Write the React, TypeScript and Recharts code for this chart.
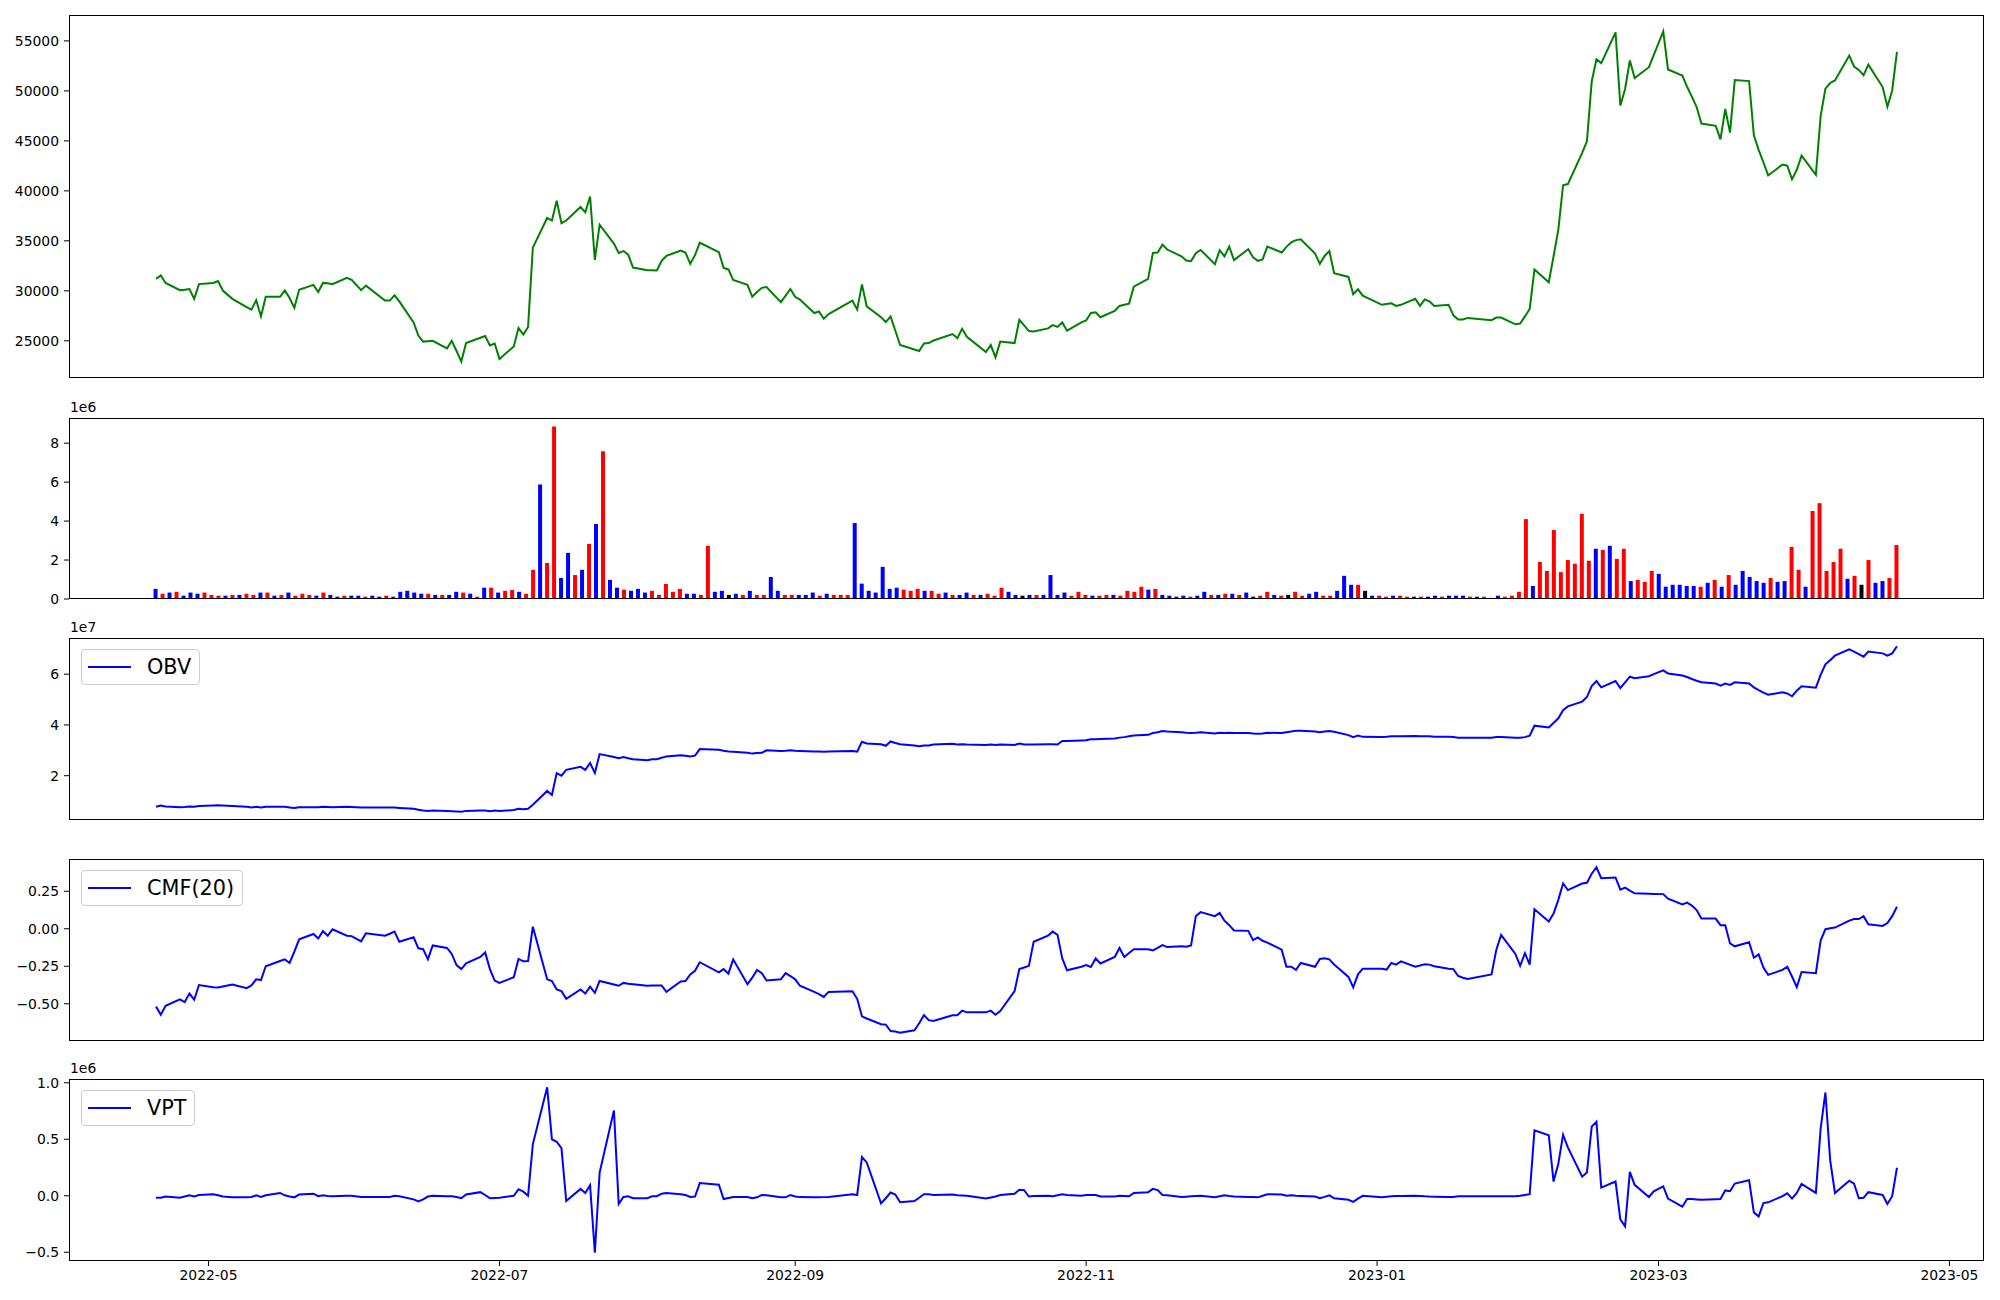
import React from "react";
import { ComposedChart, Line, Bar, Cell, XAxis, YAxis } from "recharts";

// trading days (KRX calendar) shown on the date axis
const tradingDays: [string, number[]][] = [
  ["2022-04", [20, 21, 22, 25, 26, 27, 28, 29]],
  ["2022-05", [2, 3, 4, 6, 9, 10, 11, 12, 13, 16, 17, 18, 19, 20, 23, 24, 25, 26, 27, 30, 31]],
  ["2022-06", [2, 3, 7, 8, 9, 10, 13, 14, 15, 16, 17, 20, 21, 22, 23, 24, 27, 28, 29, 30]],
  ["2022-07", [1, 4, 5, 6, 7, 8, 11, 12, 13, 14, 15, 18, 19, 20, 21, 22, 25, 26, 27, 28, 29]],
  ["2022-08", [1, 2, 3, 4, 5, 8, 9, 10, 11, 12, 16, 17, 18, 19, 22, 23, 24, 25, 26, 29, 30, 31]],
  ["2022-09", [1, 2, 5, 6, 7, 8, 13, 14, 15, 16, 19, 20, 21, 22, 23, 26, 27, 28, 29, 30]],
  ["2022-10", [4, 5, 6, 7, 11, 12, 13, 14, 17, 18, 19, 20, 21, 24, 25, 26, 27, 28, 31]],
  ["2022-11", [1, 2, 3, 4, 7, 8, 9, 10, 11, 14, 15, 16, 17, 18, 21, 22, 23, 24, 25, 28, 29, 30]],
  ["2022-12", [1, 2, 5, 6, 7, 8, 9, 12, 13, 14, 15, 16, 19, 20, 21, 22, 23, 26, 27, 28, 29]],
  ["2023-01", [2, 3, 4, 5, 6, 9, 10, 11, 12, 13, 16, 17, 18, 19, 20, 25, 26, 27, 30, 31]],
  ["2023-02", [1, 2, 3, 6, 7, 8, 9, 10, 13, 14, 15, 16, 17, 20, 21, 22, 23, 24, 27, 28]],
  ["2023-03", [2, 3, 6, 7, 8, 9, 10, 13, 14, 15, 16, 17, 20, 21, 22, 23, 24, 27, 28, 29, 30, 31]],
  ["2023-04", [3, 4, 5, 6, 7, 10, 11, 12, 13, 14, 17, 18, 19, 20]],
];

const xTickLabels = ["2022-05", "2022-07", "2022-09", "2022-11", "2023-01", "2023-03", "2023-05"];

const price = [
  [31200, 31540, 30790, 30070, 30110, 30180, 29200, 30670],
  [30790, 30970, 30030, 29200, 28380, 28120, 29060, 27440, 29400, 29400, 30030, 29280, 28300, 30110, 30600, 29880, 30790, 30750, 30670, 31310, 31090],
  [30070, 30520, 29020, 29020, 29550, 28940, 26840, 25520, 24920, 24960, 25000, 24240, 25000, 23980, 22930, 24770, 25300, 25480, 24540, 24730],
  [23190, 24430, 26270, 25630, 26390, 34320, 37290, 37030, 39020, 36760, 37030, 38380, 37850, 39430, 33080, 36610, 34730, 33790, 33980, 33610, 32330],
  [32060, 32060, 32030, 33000, 33490, 34020, 33830, 32700, 33570, 34810, 33870, 32290, 32140, 31090, 30600, 29400, 29880, 30300, 30370, 28870, 29510, 30180],
  [29400, 29130, 27780, 27930, 27210, 27670, 29020, 28120, 30640, 28450, 27360, 26870, 27430, 26010, 24580, 24130, 23980, 24730, 24770, 25030],
  [25670, 25260, 26200, 25410, 23870, 24580, 23340, 24920, 24770, 27100, 26540, 25970, 25940, 26240, 26570, 26390, 26840, 26010, 26840],
  [27030, 27780, 27850, 27360, 28000, 28490, 28600, 28720, 30410, 31200, 33790, 33830, 34620, 34130, 33450, 33040, 32970, 33760, 34090, 32670, 34060, 33450],
  [34430, 33080, 34170, 33340, 33000, 33150, 34430, 33830, 34400, 34850, 35070, 35150, 33720, 32700, 33490, 33980, 31760, 31390, 29660, 30150, 29510],
  [28600, 28680, 28750, 28490, 28600, 29210, 28490, 29130, 28940, 28490, 28600, 27550, 27140, 27140, 27290, 27060, 27330, 27330, 26650, 26730],
  [27440, 28190, 32140, 30860, 33450, 36090, 40560, 40680, 43800, 44960, 50940, 53160, 52780, 55860, 48530, 50190, 53040, 51280, 52370, 53570],
  [55940, 52140, 51540, 50410, 49430, 48380, 46730, 46500, 45150, 48190, 45820, 51090, 50980, 45560, 44100, 42860, 41540, 42630, 42520, 41160, 42100, 43530],
  [41610, 47480, 50230, 50790, 51050, 53530, 52440, 52100, 51580, 52630, 50380, 48420, 50040, 53910],
].flat();

// volume in units of 1e6
const volumeE6 = [
  [0.52, 0.27, 0.33, 0.37, 0.17, 0.33, 0.27, 0.33],
  [0.21, 0.17, 0.17, 0.21, 0.21, 0.27, 0.21, 0.33, 0.33, 0.17, 0.21, 0.33, 0.17, 0.27, 0.21, 0.17, 0.33, 0.21, 0.12, 0.17, 0.17],
  [0.17, 0.12, 0.17, 0.12, 0.17, 0.12, 0.37, 0.42, 0.33, 0.27, 0.27, 0.21, 0.21, 0.21, 0.37, 0.33, 0.27, 0.12, 0.58, 0.58],
  [0.33, 0.42, 0.46, 0.37, 0.27, 1.5, 5.88, 1.85, 8.85, 1.08, 2.37, 1.23, 1.5, 2.83, 3.85, 7.58, 0.98, 0.58, 0.48, 0.42, 0.52],
  [0.33, 0.42, 0.21, 0.77, 0.37, 0.52, 0.27, 0.27, 0.21, 2.73, 0.37, 0.42, 0.21, 0.27, 0.21, 0.42, 0.21, 0.21, 1.13, 0.42, 0.21, 0.21],
  [0.21, 0.21, 0.33, 0.17, 0.27, 0.21, 0.21, 0.21, 3.9, 0.79, 0.42, 0.33, 1.65, 0.52, 0.58, 0.48, 0.42, 0.52, 0.42, 0.42],
  [0.27, 0.33, 0.21, 0.21, 0.33, 0.21, 0.21, 0.27, 0.17, 0.58, 0.37, 0.21, 0.17, 0.21, 0.21, 0.21, 1.23, 0.21, 0.33],
  [0.17, 0.37, 0.21, 0.17, 0.17, 0.21, 0.21, 0.17, 0.42, 0.37, 0.63, 0.48, 0.52, 0.21, 0.17, 0.12, 0.17, 0.12, 0.17, 0.37, 0.21, 0.21],
  [0.27, 0.27, 0.21, 0.33, 0.12, 0.17, 0.37, 0.21, 0.17, 0.21, 0.37, 0.17, 0.27, 0.37, 0.17, 0.17, 0.42, 1.19, 0.73, 0.73, 0.42],
  [0.17, 0.17, 0.12, 0.17, 0.17, 0.12, 0.12, 0.12, 0.12, 0.17, 0.12, 0.17, 0.17, 0.17, 0.12, 0.12, 0.12, 0.06, 0.17, 0.12],
  [0.17, 0.37, 4.1, 0.67, 1.9, 1.44, 3.54, 1.38, 2.0, 1.81, 4.37, 1.96, 2.58, 2.52, 2.73, 2.06, 2.58, 0.92, 0.98, 0.88],
  [1.44, 1.29, 0.63, 0.73, 0.73, 0.67, 0.67, 0.63, 0.83, 0.98, 0.63, 1.23, 0.73, 1.44, 1.13, 0.92, 0.83, 1.08, 0.88, 0.92, 2.67, 1.5],
  [0.63, 4.52, 4.92, 1.44, 1.9, 2.58, 1.04, 1.19, 0.73, 2.0, 0.83, 0.92, 1.08, 2.77],
].flat();

// r = up, b = down, k = unchanged
const volumeDir = [
  "brbrbbbr",
  "rrbrbrrbrbrbrrrbrbbrb",
  "brbbrbbbbbrbrbbrbrbr",
  "brrbrrbrrbbrbrbrbbrbb",
  "brrrrrbbrrbbkbrbrrbbrr",
  "bbbrbrrrbbbbbbbrrrbr",
  "rbrbbrbrrrbbkbrbbbb",
  "rrrbrrbrrrrbrbbbbrbbrb",
  "rbrbkrrbrkrrbbrrbbbrk",
  "brrbrrbrbbrbbbrbrbbr",
  "rrrbrrrrrrrrbrbrrbrr",
  "rbbbbbbrbrbrbbbbbrbbrr",
  "brrrrrbrkrbbrr",
].join("");

// OBV in units of 1e7
const obvE7 = [
  [0.774, 0.82, 0.79, 0.76, 0.77, 0.79, 0.774, 0.806],
  [0.83, 0.84, 0.83, 0.81, 0.78, 0.745, 0.774, 0.745, 0.774, 0.774, 0.774, 0.75, 0.726, 0.758, 0.758, 0.758, 0.774, 0.77, 0.758, 0.774, 0.77],
  [0.745, 0.745, 0.745, 0.745, 0.745, 0.73, 0.694, 0.66, 0.63, 0.613, 0.629, 0.613, 0.6, 0.59, 0.58, 0.613, 0.63, 0.629, 0.597, 0.629],
  [0.613, 0.645, 0.694, 0.677, 0.694, 0.855, 1.4, 1.24, 2.1, 2.0, 2.23, 2.35, 2.23, 2.5, 2.11, 2.85, 2.74, 2.69, 2.74, 2.69, 2.65],
  [2.61, 2.65, 2.65, 2.71, 2.76, 2.81, 2.79, 2.76, 2.79, 3.05, 3.02, 2.98, 2.95, 2.94, 2.9, 2.87, 2.89, 2.9, 3.0, 2.97, 2.98, 3.0],
  [2.98, 2.97, 2.95, 2.95, 2.94, 2.95, 2.97, 2.95, 3.34, 3.27, 3.24, 3.18, 3.35, 3.29, 3.24, 3.19, 3.16, 3.19, 3.19, 3.23],
  [3.26, 3.23, 3.24, 3.23, 3.21, 3.23, 3.21, 3.23, 3.21, 3.27, 3.23, 3.23, 3.23, 3.24, 3.24, 3.23, 3.37, 3.37, 3.39],
  [3.4, 3.44, 3.44, 3.45, 3.47, 3.5, 3.52, 3.55, 3.58, 3.61, 3.68, 3.71, 3.76, 3.74, 3.71, 3.69, 3.68, 3.69, 3.71, 3.66, 3.69, 3.68],
  [3.69, 3.68, 3.68, 3.66, 3.65, 3.66, 3.69, 3.68, 3.71, 3.74, 3.77, 3.77, 3.74, 3.71, 3.74, 3.76, 3.73, 3.6, 3.52, 3.58, 3.53],
  [3.52, 3.53, 3.55, 3.55, 3.55, 3.56, 3.55, 3.55, 3.55, 3.53, 3.53, 3.52, 3.5, 3.5, 3.5, 3.5, 3.52, 3.52, 3.5, 3.5],
  [3.52, 3.58, 3.97, 3.9, 4.08, 4.26, 4.58, 4.73, 4.92, 5.1, 5.53, 5.73, 5.48, 5.73, 5.45, 5.68, 5.9, 5.84, 5.92, 6.0],
  [6.15, 6.03, 5.95, 5.89, 5.81, 5.74, 5.68, 5.63, 5.55, 5.63, 5.58, 5.68, 5.63, 5.48, 5.37, 5.27, 5.19, 5.29, 5.24, 5.13, 5.35, 5.52],
  [5.47, 5.97, 6.39, 6.55, 6.73, 6.98, 6.89, 6.79, 6.69, 6.89, 6.82, 6.73, 6.82, 7.1],
].flat();

const cmf = [
  [-0.519, -0.573, -0.514, -0.47, -0.489, -0.432, -0.473, -0.375],
  [-0.39, -0.391, -0.385, -0.372, -0.396, -0.378, -0.337, -0.342, -0.25, -0.215, -0.204, -0.228, -0.152, -0.07, -0.035, -0.065, -0.016, -0.046, -0.003, -0.046, -0.049],
  [-0.084, -0.03, -0.046, -0.033, -0.019, -0.087, -0.057, -0.13, -0.136, -0.204, -0.111, -0.128, -0.168, -0.242, -0.269, -0.231, -0.188, -0.158, -0.269, -0.345],
  [-0.361, -0.323, -0.201, -0.217, -0.215, 0.014, -0.337, -0.348, -0.405, -0.416, -0.467, -0.405, -0.432, -0.386, -0.427, -0.348, -0.372, -0.38, -0.361, -0.367, -0.37],
  [-0.38, -0.378, -0.378, -0.378, -0.421, -0.351, -0.348, -0.304, -0.28, -0.223, -0.291, -0.269, -0.299, -0.204, -0.37, -0.326, -0.274, -0.296, -0.345, -0.337, -0.296, -0.315],
  [-0.337, -0.38, -0.421, -0.435, -0.454, -0.421, -0.416, -0.467, -0.584, -0.598, -0.636, -0.639, -0.682, -0.685, -0.693, -0.677, -0.63, -0.576, -0.609, -0.614],
  [-0.576, -0.576, -0.546, -0.557, -0.557, -0.546, -0.573, -0.549, -0.416, -0.269, -0.258, -0.247, -0.087, -0.046, -0.019, -0.041, -0.198, -0.277, -0.253],
  [-0.242, -0.255, -0.198, -0.231, -0.188, -0.128, -0.188, -0.161, -0.136, -0.136, -0.144, -0.127, -0.109, -0.122, -0.117, -0.12, -0.111, 0.084, 0.111, 0.084, 0.106, 0.054],
  [0.024, -0.011, -0.014, -0.076, -0.057, -0.08, -0.092, -0.139, -0.253, -0.253, -0.274, -0.228, -0.253, -0.201, -0.196, -0.204, -0.239, -0.321, -0.391, -0.304, -0.266],
  [-0.266, -0.272, -0.228, -0.239, -0.217, -0.253, -0.245, -0.236, -0.239, -0.25, -0.266, -0.269, -0.315, -0.326, -0.334, -0.304, -0.141, -0.041, -0.168, -0.247],
  [-0.163, -0.239, 0.13, 0.049, 0.101, 0.193, 0.302, 0.258, 0.302, 0.307, 0.367, 0.41, 0.337, 0.342, 0.261, 0.274, 0.255, 0.236, 0.233, 0.232],
  [0.231, 0.201, 0.163, 0.174, 0.155, 0.125, 0.068, 0.068, 0.024, 0.024, -0.098, -0.117, -0.09, -0.193, -0.171, -0.258, -0.307, -0.274, -0.253, -0.318, -0.389, -0.288],
  [-0.296, -0.079, -0.003, 0.003, 0.008, 0.054, 0.065, 0.065, 0.084, 0.03, 0.019, 0.038, 0.084, 0.147],
].flat();

// VPT in units of 1e6
const vptE6 = [
  [-0.018, -0.018, -0.007, -0.018, -0.007, 0.004, -0.007, 0.007],
  [0.014, 0.004, -0.007, -0.014, -0.014, -0.011, 0.004, -0.011, 0.004, 0.025, 0.004, -0.007, -0.014, 0.011, 0.018, -0.004, 0.004, -0.002, -0.004, 0, 0],
  [-0.011, -0.011, -0.011, -0.011, 0, -0.004, -0.032, -0.05, -0.032, -0.007, 0, -0.004, -0.004, -0.011, -0.022, 0.011, 0.032, 0.007, -0.022, -0.02],
  [-0.018, 0, 0.058, 0.036, 0, 0.457, 0.96, 0.5, 0.478, 0.421, -0.047, 0.061, 0.025, 0.094, -0.504, 0.205, 0.755, -0.072, -0.011, -0.004, -0.022],
  [-0.022, -0.004, -0.004, 0.018, 0.025, 0.014, 0.007, -0.011, -0.007, 0.112, 0.097, -0.029, -0.02, -0.011, -0.011, -0.022, -0.014, 0.007, 0.004, -0.014, -0.014, 0.007],
  [-0.007, -0.012, -0.014, -0.014, -0.012, -0.01, 0.014, 0.007, 0.342, 0.295, -0.068, -0.022, 0.029, 0.011, -0.058, -0.047, -0.018, 0.014, 0.014, 0.007],
  [0.011, 0.004, 0.002, 0, -0.025, -0.015, -0.007, 0.007, 0.018, 0.054, 0.05, -0.007, -0.003, 0, -0.004, 0.005, 0.014, 0.007, 0],
  [0.007, 0.007, 0.007, -0.007, -0.007, 0, -0.002, -0.004, 0.025, 0.032, 0.061, 0.05, 0.007, 0.005, -0.011, -0.008, -0.005, -0.002, 0, -0.014, -0.005, 0.004],
  [-0.002, -0.007, -0.011, -0.012, -0.014, 0, 0.014, 0.011, 0, 0.004, 0, -0.002, -0.007, -0.022, -0.01, 0.004, -0.022, -0.036, -0.054, -0.025, 0],
  [-0.014, -0.008, -0.004, -0.003, -0.002, 0, -0.002, -0.005, -0.007, -0.008, -0.01, -0.011, -0.004, -0.004, -0.004, -0.004, -0.004, -0.004, -0.004, 0],
  [0.007, 0.014, 0.579, 0.536, 0.126, 0.284, 0.54, 0.428, 0.169, 0.205, 0.612, 0.655, 0.072, 0.126, -0.209, -0.27, 0.212, 0.097, -0.011, 0.04],
  [0.083, -0.025, -0.097, -0.029, -0.029, -0.032, -0.036, -0.03, -0.029, 0.047, 0.04, 0.108, 0.137, -0.147, -0.183, -0.065, -0.058, -0.004, 0.022, -0.025, 0.025, 0.104],
  [0.025, 0.594, 0.914, 0.313, 0.025, 0.133, 0.108, -0.022, -0.018, 0.032, 0.007, -0.072, -0.004, 0.248],
].flat();

const priceTicks = [25000, 30000, 35000, 40000, 45000, 50000, 55000];
const volumeTicks = [0, 2, 4, 6, 8];
const obvTicks = [2, 4, 6];
const cmfTicks = [-0.5, -0.25, 0, 0.25];
const vptTicks = [-0.5, 0, 0.5, 1.0];

const DAY = 86400000;
const toTime = (ym: string, d: number) => {
  const [y, m] = ym.split("-").map(Number);
  return Date.UTC(y, m - 1, d);
};
const t0 = toTime(tradingDays[0][0], tradingDays[0][1][0]);
const dayOffsets = tradingDays.flatMap(([ym, days]) => days.map((d) => (toTime(ym, d) - t0) / DAY));
const span = dayOffsets[dayOffsets.length - 1];
const xDomain = [-0.05 * span, 1.05 * span];
const xTicks = xTickLabels.map((l) => (toTime(l, 1) - t0) / DAY);

const rows = dayOffsets.map((d, i) => ({ d, price: price[i], obv: obvE7[i], cmf: cmf[i], vpt: vptE6[i] }));
const volRows = volumeE6.map((v, i) => ({ i, v }));
const nBars = volRows.length - 1;
const barDomain = [-0.05 * nBars, 1.05 * nBars];

// matplotlib-like 5% padding
function padded(values: number[]) {
  const lo = Math.min(...values);
  const hi = Math.max(...values);
  const r = hi - lo;
  return [lo - 0.05 * r, hi + 0.05 * r];
}

const dirColor: Record<string, string> = { r: "#ff0000", b: "#0000ff", k: "#000000" };
const minus = (s: string) => s.replace("-", "\u2212");

const LEFT = 69;
const PLOT_W = 1915;
const PAD = 10;
const margin = { top: PAD, right: 2000 - LEFT - PLOT_W, bottom: PAD, left: 0 };
const tickStyle = { fontSize: 13.9, fill: "#000", fontFamily: "DejaVu Sans" };

const panels = [
  { top: 15, height: 363 },
  { top: 418, height: 181 },
  { top: 638, height: 182 },
  { top: 859, height: 182 },
  { top: 1079, height: 182 },
];

function yAxis(domain: number[], ticks: number[], fmt?: (v: number) => string) {
  return (
    <YAxis
      type="number"
      domain={domain}
      ticks={ticks}
      allowDataOverflow
      interval={0}
      width={LEFT}
      axisLine={false}
      tickLine={{ stroke: "#000" }}
      tickSize={5}
      tickMargin={5}
      tick={tickStyle}
      tickFormatter={fmt}
    />
  );
}

function LegendBox({ top, label }: { top: number; label: string }) {
  return (
    <div
      style={{
        position: "absolute",
        left: 81,
        top,
        height: 36,
        display: "flex",
        alignItems: "center",
        padding: "0 8px 0 6px",
        border: "1px solid #cccccc",
        borderRadius: 4,
        background: "rgba(255,255,255,0.8)",
        boxSizing: "border-box",
        fontSize: 20.8,
        color: "#000",
      }}
    >
      <span style={{ display: "inline-block", width: 43, height: 2, background: "#0000ff", marginRight: 16 }} />
      <span style={{ lineHeight: 1 }}>{label}</span>
    </div>
  );
}

function OffsetText({ top, text }: { top: number; text: string }) {
  return (
    <div style={{ position: "absolute", left: 70, top: top - 19, fontSize: 13.9, lineHeight: "18px" }}>{text}</div>
  );
}

export default function App() {
  const [p1, p2, p3, p4, p5] = panels;
  return (
    <div
      style={{
        position: "relative",
        width: 2000,
        height: 1300,
        background: "#fff",
        fontFamily: "DejaVu Sans, sans-serif",
        overflow: "hidden",
      }}
    >
      <style>{"body{margin:0}"}</style>

      <div style={{ position: "absolute", left: 0, top: p1.top - PAD }}>
        <ComposedChart width={2000} height={p1.height + 2 * PAD} data={rows} margin={margin}>
          <XAxis type="number" dataKey="d" domain={xDomain} allowDataOverflow hide />
          {yAxis(padded(price), priceTicks, (v) => String(v))}
          <Line dataKey="price" stroke="#008000" strokeWidth={2} dot={false} activeDot={false} isAnimationActive={false} />
        </ComposedChart>
      </div>

      <div style={{ position: "absolute", left: 0, top: p2.top - PAD }}>
        <ComposedChart width={2000} height={p2.height + 2 * PAD} data={volRows} margin={margin}>
          <XAxis type="number" dataKey="i" domain={barDomain} allowDataOverflow hide />
          {yAxis([0, Math.max(...volumeE6) * 1.05], volumeTicks, (v) => String(v))}
          <Bar dataKey="v" barSize={4} isAnimationActive={false}>
            {volRows.map((r) => (
              <Cell key={r.i} fill={dirColor[volumeDir[r.i]]} />
            ))}
          </Bar>
        </ComposedChart>
      </div>

      <div style={{ position: "absolute", left: 0, top: p3.top - PAD }}>
        <ComposedChart width={2000} height={p3.height + 2 * PAD} data={rows} margin={margin}>
          <XAxis type="number" dataKey="d" domain={xDomain} allowDataOverflow hide />
          {yAxis(padded(obvE7), obvTicks, (v) => String(v))}
          <Line dataKey="obv" stroke="#0000ff" strokeWidth={2} dot={false} activeDot={false} isAnimationActive={false} />
        </ComposedChart>
      </div>

      <div style={{ position: "absolute", left: 0, top: p4.top - PAD }}>
        <ComposedChart width={2000} height={p4.height + 2 * PAD} data={rows} margin={margin}>
          <XAxis type="number" dataKey="d" domain={xDomain} allowDataOverflow hide />
          {yAxis(padded(cmf), cmfTicks, (v) => minus(v.toFixed(2)))}
          <Line dataKey="cmf" stroke="#0000ff" strokeWidth={2} dot={false} activeDot={false} isAnimationActive={false} />
        </ComposedChart>
      </div>

      <div style={{ position: "absolute", left: 0, top: p5.top - PAD }}>
        <ComposedChart
          width={2000}
          height={p5.height + PAD + 35}
          data={rows}
          margin={{ ...margin, bottom: 5 }}
        >
          <XAxis
            type="number"
            dataKey="d"
            domain={xDomain}
            allowDataOverflow
            ticks={xTicks}
            interval={0}
            height={30}
            axisLine={false}
            tickLine={{ stroke: "#000" }}
            tickSize={5}
            tickMargin={4}
            tick={tickStyle}
            tickFormatter={(v: number) => xTickLabels[xTicks.indexOf(v)] ?? ""}
          />
          {yAxis(padded(vptE6), vptTicks, (v) => minus(v.toFixed(1)))}
          <Line dataKey="vpt" stroke="#0000ff" strokeWidth={2} dot={false} activeDot={false} isAnimationActive={false} />
        </ComposedChart>
      </div>

      {panels.map((p, k) => (
        <div
          key={k}
          style={{
            position: "absolute",
            left: LEFT,
            top: p.top,
            width: PLOT_W,
            height: p.height,
            border: "1px solid #000",
            boxSizing: "border-box",
            pointerEvents: "none",
          }}
        />
      ))}

      <OffsetText top={p2.top - 1} text="1e6" />
      <OffsetText top={p3.top - 1} text="1e7" />
      <OffsetText top={p5.top - 1} text="1e6" />

      <LegendBox top={p3.top + 11} label="OBV" />
      <LegendBox top={p4.top + 11} label="CMF(20)" />
      <LegendBox top={p5.top + 11} label="VPT" />
    </div>
  );
}
